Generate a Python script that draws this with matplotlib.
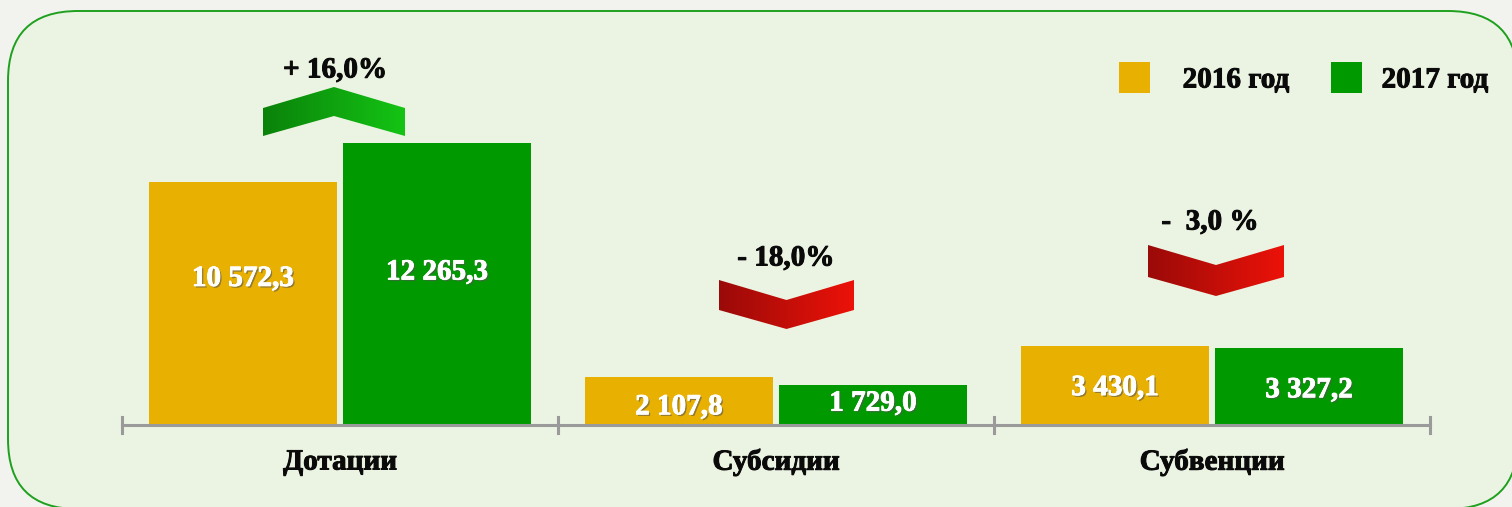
import numpy as np
import matplotlib
matplotlib.use("Agg")
import matplotlib.pyplot as plt
from matplotlib.patches import FancyBboxPatch, Polygon, Rectangle
import matplotlib.patheffects as pe

categories = ["Дотации", "Субсидии", "Субвенции"]
values_2016 = [10572.3, 2107.8, 3430.1]
values_2017 = [12265.3, 1729.0, 3327.2]
series_names = ["2016 год", "2017 год"]
change_labels = ["+ 16,0%", "- 18,0%", "-  3,0 %"]

C16 = "#E8B000"
C17 = "#009A00"
FONT = "Liberation Serif"
FS = 21
INK = "#0A0A0A"
heavy = [pe.withStroke(linewidth=0.7, foreground=INK)]

W, H = 1512, 507
fig = plt.figure(figsize=(W / 100, H / 100), dpi=100)
fig.patch.set_facecolor("#F2F3EF")

# overlay in pixel coords for decorations
bg = fig.add_axes([0, 0, 1, 1], zorder=0)
bg.set_xlim(0, W)
bg.set_ylim(H, 0)
bg.axis("off")
frame = FancyBboxPatch((8, 11), 1510, 498, boxstyle="round,pad=0,rounding_size=70",
                       facecolor="#EBF4E2", edgecolor="#1EA01E", linewidth=1.4)
bg.add_patch(frame)

# main chart axes: baseline at y=425 px, x span 122..1430 px
ax = fig.add_axes([122 / W, (H - 425) / H, 1308 / W, 425 / H], zorder=1)
ax.patch.set_alpha(0)
scale = 0.023  # px per unit
ax.set_xlim(0, 3)
ax.set_ylim(0, 425 / scale)
for s in ax.spines.values():
    s.set_visible(False)
ax.set_yticks([])
ax.set_xticks([])

x = np.arange(len(categories)) + 0.5
bw = 188 / 436
off = 97 / 436
b1 = ax.bar(x - off, values_2016, bw, color=C16, zorder=2)
b2 = ax.bar(x + off, values_2017, bw, color=C17, zorder=2)

# axis line with boundary ticks
ax.axhline(0, color="#9A9A9A", lw=2.2, zorder=3, clip_on=False)
for t in range(len(categories) + 1):
    ax.plot([t, t], [-8 / scale, 8 / scale], color="#9A9A9A", lw=2.2,
            clip_on=False, zorder=3)

for xi, c in zip(x, categories):
    ax.text(xi, -37 / scale, c, ha="center", va="center", fontsize=FS,
            fontweight="bold", family=FONT, color=INK, path_effects=heavy)

shadow = [pe.withSimplePatchShadow(offset=(1.2, -1.2), shadow_rgbFace="#555555", alpha=0.6),
          pe.withStroke(linewidth=0.6, foreground="white")]
label_dy = [[25, -6, -2], [12, 2, -3]]
for k, (bars, vals) in enumerate([(b1, values_2016), (b2, values_2017)]):
    for i, (b, v) in enumerate(zip(bars, vals)):
        txt = f"{v:,.1f}".replace(",", " ").replace(".", ",")
        ax.text(b.get_x() + b.get_width() / 2, v / 2 + label_dy[k][i] / scale, txt,
                ha="center", va="center", fontsize=FS, fontweight="bold",
                family=FONT, color="white", path_effects=shadow, zorder=4)


def chevron(x0, x1, ytop_side, ybot_side, ypeak_outer, ypeak_inner, cmap_cols):
    xm = (x0 + x1) / 2
    if ypeak_outer < ytop_side:  # pointing up
        pts = [(x0, ybot_side), (x0, ytop_side), (xm, ypeak_outer),
               (x1, ytop_side), (x1, ybot_side), (xm, ypeak_inner)]
    else:
        pts = [(x0, ytop_side), (x0, ybot_side), (xm, ypeak_outer),
               (x1, ybot_side), (x1, ytop_side), (xm, ypeak_inner)]
    poly = Polygon(pts, closed=True, facecolor="none", edgecolor="none")
    bg.add_patch(poly)
    grad = np.linspace(0, 1, 256)[None, :]
    cm = matplotlib.colors.LinearSegmentedColormap.from_list("g", cmap_cols)
    ys = [p[1] for p in pts]
    im = bg.imshow(grad, cmap=cm, extent=(x0, x1, max(ys), min(ys)),
                   aspect="auto", zorder=2)
    im.set_clip_path(poly)


green_grad = ["#0A820A", "#14C414"]
red_grad = ["#9A0A08", "#EC1208"]
chevron(263, 405, 108, 136, 87, 116, green_grad)
chevron(719, 854, 280, 310, 329, 300, red_grad)
chevron(1148, 1284, 245, 277, 296, 265, red_grad)
for (tx, ty), lab in zip([(335, 70), (786, 258), (1210, 222)], change_labels):
    bg.text(tx, ty, lab, ha="center", va="center", fontsize=FS,
            fontweight="bold", family=FONT, color=INK, path_effects=heavy)
bg.set_xlim(0, W)
bg.set_ylim(H, 0)

# legend
for (sx, tx), col, name in zip([(1119, 1236), (1331, 1435)], [C16, C17], series_names):
    bg.add_patch(Rectangle((sx, 62), 31, 31, facecolor=col, edgecolor="none"))
    bg.text(tx, 80, name, ha="center", va="center", fontsize=FS,
            fontweight="bold", family=FONT, color=INK, path_effects=heavy)

fig.savefig("out.png", dpi=100, facecolor=fig.get_facecolor())
